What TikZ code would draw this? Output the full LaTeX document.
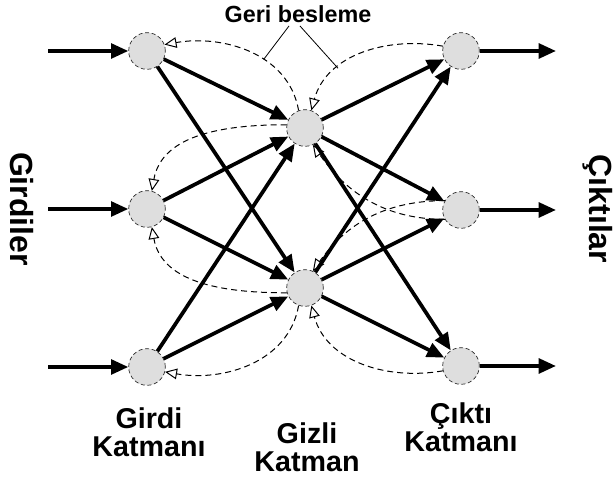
\documentclass[tikz,border=0pt]{standalone}
\usepackage{fontspec}
\setmainfont{Liberation Sans}
\usetikzlibrary{arrows.meta}

\begin{document}
\begin{tikzpicture}[x=0.75pt,y=0.75pt,
	neuron/.style={circle, draw=black!85, densely dashed, line width=0.5pt, fill=black!13, minimum size=27.5pt, inner sep=0pt},
	wire/.style={line width=2.8pt, -{Triangle[length=13pt,width=11pt]}},
	feedback/.style={line width=0.75pt, dash pattern=on 4.5pt off 3pt, -{Triangle[open,length=9pt,width=8pt]}},
	layertext/.style={font=\bfseries\fontsize{21.5}{21}\selectfont, align=center}]

	\useasboundingbox (0,0) rectangle (613,484);

	% layers
	\node[neuron] (I1) at (147,433) {};
	\node[neuron] (I2) at (147,275) {};
	\node[neuron] (I3) at (147,117) {};

	\node[neuron] (H1) at (305,356) {};
	\node[neuron] (H2) at (305,196) {};

	\node[neuron] (O1) at (461,433) {};
	\node[neuron] (O2) at (461,274) {};
	\node[neuron] (O3) at (461,118) {};

	\coordinate (in1) at (48,433);
	\coordinate (in2) at (48,275);
	\coordinate (in3) at (48,117);
	\coordinate (out1) at (556,433);
	\coordinate (out2) at (556,274);
	\coordinate (out3) at (556,118);

	\foreach \i in {1,2,3} {
		\draw[wire] (in\i) -- (I\i);
		\draw[wire] (O\i) -- (out\i);
	}

	\foreach \i in {1,2,3}
		\foreach \h in {1,2}
			\draw[wire] (I\i) -- (H\h);

	\foreach \h in {1,2}
		\foreach \o in {1,2,3}
			\draw[wire] (H\h) -- (O\o);

	% feedback
	\draw[feedback] (H1.110) to[out=100,in=10] coordinate[pos=0.4] (fb1) (I1.20);
	\draw[feedback] (O1.165) to[out=170,in=75] coordinate[pos=0.68] (fb2) (H1.70);
	\draw[feedback] (H1.170) to[out=180,in=80] (I2.75);
	\draw[feedback] (H2.195) to[out=180,in=280] (I2.285);
	\draw[feedback] (H2.250) to[out=260,in=350] (I3.345);
	\draw[feedback] (O3.195) to[out=190,in=285] (H2.290);
	\draw[feedback] (O2.150) to[out=180,in=55] (H2.65);
	\draw[feedback] (O2.210) to[out=180,in=305] (H1.295);

	\node[font=\bfseries\fontsize{17.5}{18}\selectfont] (gb) at (298,470) {Geri besleme};
	\coordinate (gbl) at (289,458);
	\coordinate (gbr) at (300,458);
	\draw[line width=0.6pt] (gbl) -- (fb1);
	\draw[line width=0.6pt] (gbr) -- (fb2);

	\node[layertext] (ltin) at (149,52) {Girdi\\Katmanı};
	\node[layertext] (lthid) at (307,37) {Gizli\\Katman};
	\node[layertext] (ltout) at (461,57) {Çıktı\\Katmanı};

	\node[font=\bfseries\fontsize{24}{24}\selectfont, rotate=-90] (gir) at (22,275) {Girdiler};
	\node[font=\bfseries\fontsize{24}{24}\selectfont, rotate=-90] (cik) at (598,275) {Çıktılar};

\end{tikzpicture}
\end{document}
